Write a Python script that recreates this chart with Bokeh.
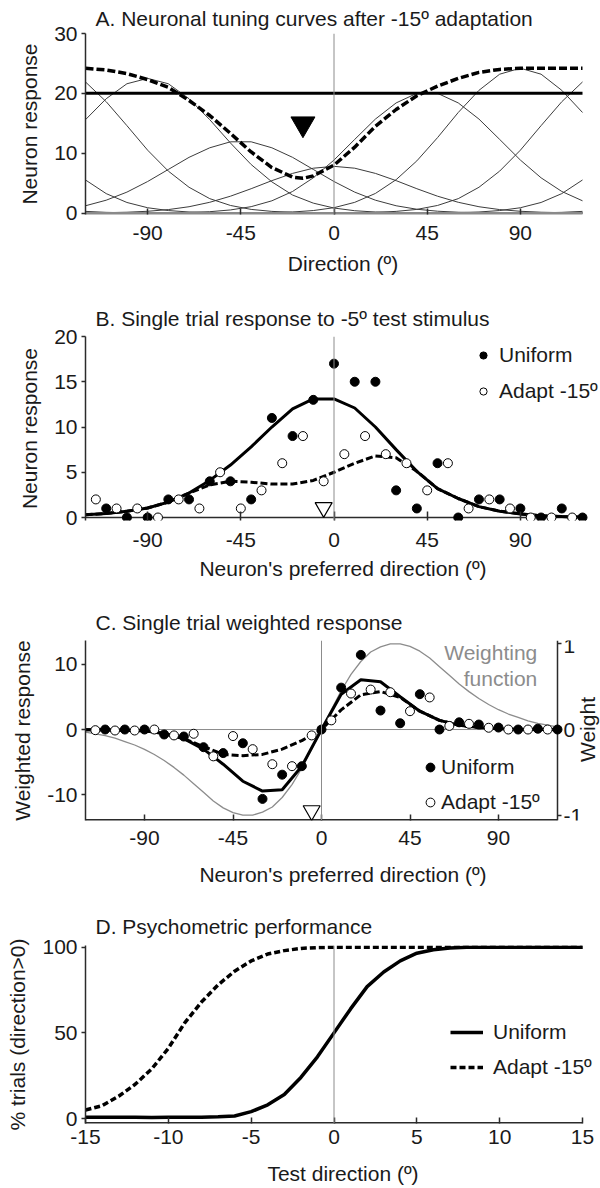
import math
from bokeh.plotting import figure
from bokeh.layouts import column
from bokeh.models import Range1d, FixedTicker, Span, Label, Legend, LegendItem
from bokeh.core.properties import value
from bokeh.embed import file_html
from bokeh.resources import INLINE

FONT = "Liberation Sans"
FS = "21px"
INK = "#1a1a1a"
AXC = "#2b2b2b"
GRAY = "#8c8c8c"

# ---------------- Panel A: tuning curves after -15 deg adaptation ----------------
a_dirs = [-120, -110, -100, -90, -80, -70, -60, -50, -40, -30, -20, -10, 0,
          10, 20, 30, 40, 50, 60, 70, 80, 90, 100, 110, 120]
a_pref_180 = [5.52, 3.24, 1.76, 0.88, 0.41, 0.17, 0.07, 0.03, 0.01, 0, 0, 0, 0,
              0, 0, 0, 0.01, 0.03, 0.07, 0.17, 0.41, 0.88, 1.76, 3.24, 5.52]
a_pref_m135 = [21.9, 18.6, 14.6, 10.5, 7.0, 4.3, 2.4, 1.26, 0.6, 0.27, 0.11, 0.04, 0.01,
               0, 0, 0, 0, 0, 0, 0, 0, 0.01, 0.04, 0.11, 0.27]
a_pref_m90 = [15.6, 19.1, 21.6, 22.5, 21.6, 19.1, 15.6, 11.7, 8.1, 5.2, 3.0, 1.65, 0.83,
              0.38, 0.16, 0.06, 0.02, 0.01, 0, 0, 0, 0, 0, 0, 0]
a_pref_m45 = [1.21, 2.14, 3.49, 5.26, 7.28, 9.3, 10.9, 11.9, 11.9, 10.9, 9.3, 7.28, 5.26,
              3.49, 2.14, 1.21, 0.63, 0.3, 0.13, 0.05, 0.02, 0.01, 0, 0, 0]
a_pref_0 = [0.02, 0.06, 0.13, 0.29, 0.57, 1.05, 1.79, 2.81, 4.06, 5.41, 6.62, 7.49, 7.8,
            7.49, 6.62, 5.41, 4.06, 2.81, 1.79, 1.05, 0.57, 0.29, 0.13, 0.06, 0.02]
a_pref_45 = [0, 0, 0, 0.01, 0.03, 0.09, 0.22, 0.51, 1.06, 2.04, 3.6, 5.88, 8.85,
             12.3, 15.7, 18.4, 20.0, 20.0, 18.4, 15.7, 12.3, 8.85, 5.88, 3.6, 2.04]
a_pref_90 = [0, 0, 0, 0, 0, 0, 0, 0.01, 0.02, 0.07, 0.17, 0.41, 0.89,
             1.78, 3.27, 5.57, 8.71, 12.6, 16.8, 20.5, 23.2, 24.2, 23.2, 20.5, 16.8]
a_pref_135 = [0.27, 0.11, 0.04, 0.01, 0, 0, 0, 0, 0, 0, 0, 0, 0,
              0.04, 0.11, 0.27, 0.6, 1.26, 2.4, 4.3, 7.0, 10.5, 14.6, 18.6, 21.9]
a_pop_dirs = [-120, -110, -100, -90, -80, -70, -60, -50, -40, -30, -20, -15, -10, 0,
              10, 20, 30, 40, 50, 60, 70, 80, 90, 100, 110, 120]
a_pop_adapt = [24.2, 23.9, 23.3, 22.3, 21.0, 18.8, 16.3, 13.3, 10.2, 7.6, 6.0, 5.8, 6.2, 8.0,
               11.0, 14.5, 17.3, 19.6, 21.2, 22.5, 23.5, 24.0, 24.2, 24.2, 24.2, 24.2]
a_uniform_level = 20
adapt_dir = -15
test_dir = -5

# ---------------- Panel B: single-trial responses ----------------
b_uniform_dirs = [-110, -100, -90, -80, -70, -60, -50, -40, -30, -20, -10, 0,
                  10, 20, 30, 40, 50, 60, 70, 80, 90, 100, 110, 120]
b_uniform_resp = [1, 0, 0, 2, 2, 4, 4, 2, 11, 9, 13, 17,
                  15, 15, 3, 1, 6, 0, 2, 2, 1, 0, 1, 0]
b_adapt_dirs = [-115, -105, -95, -85, -75, -65, -55, -45, -35, -25, -15, -5,
                5, 15, 25, 35, 45, 55, 65, 75, 85, 95, 105, 115]
b_adapt_resp = [2, 1, 1, 0, 2, 1, 5, 1, 3, 6, 9, 4,
                7, 9, 7, 6, 3, 6, 1, 2, 1, 0, 0, 0]
b_curve_dirs = a_dirs
b_uniform_mean = [0.3, 0.45, 0.7, 1.05, 1.7, 2.7, 4.1, 5.8, 7.8, 10.0, 12.0, 13.1, 13.1,
                  12.1, 10.0, 7.5, 5.1, 3.2, 2.1, 1.2, 0.7, 0.4, 0.2, 0.1, 0.05]
b_adapt_mean = [0.3, 0.45, 0.7, 1.05, 1.7, 2.7, 3.6, 4.0, 3.9, 3.7, 3.7, 4.1, 5.0,
                6.0, 6.8, 6.6, 5.1, 3.2, 2.1, 1.2, 0.7, 0.4, 0.2, 0.1, 0.05]

# ---------------- Panel C: weighted responses ----------------
c_uniform_wresp = [0, 0, 0, -0.76, -1.07, -2.7, -3.6, -2.1, -10.6, -6.9, -5.6, 0,
                   6.4, 11.4, 2.9, 0.96, 5.4, 0, 1.1, 0.76, 0.3, 0, 0.12, 0]
c_adapt_wresp = [-0.1, -0.15, -0.15, 0, -0.9, -0.65, -4.1, -1.0, -3.0, -5.3, -5.6, -0.9,
                 1.4, 5.5, 6.1, 5.7, 2.8, 4.9, 0.55, 0.87, 0.27, 0, 0, 0]
c_uniform_mean = [-0.05, -0.05, -0.1, -0.2, -0.6, -1.4, -3.0, -5.3, -7.9, -9.4, -9.2, -5.6, 0,
                  5.4, 7.6, 7.3, 5.0, 2.8, 1.4, 0.65, 0.3, 0.12, 0.05, 0.02, 0]
c_adapt_mean = [-0.05, -0.05, -0.1, -0.2, -0.6, -1.4, -2.6, -3.8, -4.0, -3.8, -3.0, -1.7, 0,
                3.0, 5.3, 5.8, 4.9, 2.8, 1.4, 0.65, 0.3, 0.12, 0.05, 0.02, 0]
w_dirs = [-120, -115, -110, -105, -100, -95, -90, -85, -80, -75, -70, -65, -60, -55, -50,
          -45, -40, -35, -30, -25, -20, -15, -10, -5, 0, 5, 10, 15, 20, 25, 30, 35, 40,
          45, 50, 55, 60, 65, 70, 75, 80, 85, 90, 95, 100, 105, 110, 115, 120]
w_weight = [-0.03, -0.05, -0.07, -0.10, -0.14, -0.18, -0.23, -0.29, -0.36, -0.44, -0.53,
            -0.63, -0.73, -0.83, -0.91, -0.965, -0.995, -0.995, -0.96, -0.90, -0.79, -0.64,
            -0.45, -0.23, 0, 0.23, 0.45, 0.64, 0.79, 0.90, 0.96, 0.995, 0.995, 0.965, 0.91,
            0.83, 0.73, 0.63, 0.53, 0.44, 0.36, 0.29, 0.23, 0.18, 0.14, 0.10, 0.07, 0.05, 0.03]
w_ticks = [-1, 0, 1]

# ---------------- Panel D: psychometric curves ----------------
d_test_dirs = [-15, -14, -13, -12, -11, -10, -9, -8, -7, -6, -5, -4, -3, -2, -1, 0,
               1, 2, 3, 4, 5, 6, 7, 8, 9, 10, 11, 12, 13, 14, 15]
d_uniform_pct = [0.8, 0.8, 0.7, 0.8, 0.6, 0.8, 0.7, 0.8, 1.0, 1.5, 4, 8, 14, 24, 36, 50,
                 64, 77, 85.5, 92, 96.5, 98.5, 99.5, 100, 100, 100, 100, 100, 100, 100, 100]
d_adapt_pct = [5, 7.5, 13, 20, 29, 41, 56, 68, 78, 86, 92, 96, 98, 99.3, 99.8, 100,
               100, 100, 100, 100, 100, 100, 100, 100, 100, 100, 100, 100, 100, 100, 100]

LEFT = 85
FRAME_W = 515          # frame runs to the right edge of the page
AXIS_W = 497           # drawn axis length for panels A, B, D
AXIS_W_C = 472         # drawn axis length for panel C (right axis takes space)


def x_end(lo, hi, axis_px):
    return lo + (hi - lo) * FRAME_W / axis_px


def make_fig(title, height, top, bottom, xr, yr, title_standoff):
    p = figure(width=600, height=height, x_range=xr, y_range=yr, title=title,
               output_backend="svg", toolbar_location=None,
               min_border_left=LEFT, min_border_right=0,
               min_border_top=top, min_border_bottom=bottom)
    p.outline_line_color = None
    p.xgrid.visible = False
    p.ygrid.visible = False
    p.title.align = "left"
    p.title.offset = 10
    p.title.text_font = FONT
    p.title.text_font_size = FS
    p.title.text_font_style = "normal"
    p.title.text_color = INK
    p.title.standoff = title_standoff
    return p


def style_axis(ax, ticks, label, inward, tick_standoff=8, label_standoff=9):
    ax.ticker = FixedTicker(ticks=ticks, minor_ticks=[])
    ax.major_label_overrides = {t: ("%g" % t) for t in ticks}
    ax.axis_label = label
    ax.axis_label_text_font = FONT
    ax.axis_label_text_font_size = FS
    ax.axis_label_text_font_style = "normal"
    ax.axis_label_text_color = INK
    ax.major_label_text_font = FONT
    ax.major_label_text_font_size = FS
    ax.major_label_text_color = INK
    ax.axis_line_color = AXC
    ax.axis_line_width = 1.5
    ax.major_tick_line_color = AXC
    ax.major_tick_line_width = 1.5
    ax.minor_tick_line_color = None
    if inward:
        ax.axis_line_color = None      # baseline drawn only over the data span
        ax.major_tick_in = 6
        ax.major_tick_out = 0
        ax.major_label_standoff = tick_standoff
        ax.axis_label_standoff = label_standoff
    else:
        ax.major_tick_in = 0
        ax.major_tick_out = 4
        ax.major_label_standoff = 4
        ax.axis_label_standoff = 10


def baseline(p, x0, x1, color=AXC, width=3):
    y = p.y_range.start
    p.line([x0, x1], [y, y], line_color=color, line_width=width)


dir_ticks = [-90, -45, 0, 45, 90]

# ---------- A ----------
pA = make_fig("A. Neuronal tuning curves after -15º adaptation", 292, 33, 78,
              Range1d(-120, x_end(-120, 120, AXIS_W)), Range1d(-0.25, 30), 8)
style_axis(pA.xaxis[0], dir_ticks, "Direction (º)", True, 11, 9)
style_axis(pA.yaxis[0], [0, 10, 20, 30], "Neuron response", False)
pA.add_layout(Span(location=0, dimension="height", line_color=GRAY, line_width=1))
for curve in [a_pref_180, a_pref_m135, a_pref_m90, a_pref_m45, a_pref_0,
              a_pref_45, a_pref_90, a_pref_135]:
    pA.line(a_dirs, curve, line_color="#3c3c3c", line_width=1)
baseline(pA, a_dirs[0], a_dirs[-1], color="#8a8a8a", width=5)
pA.line([a_dirs[0], a_dirs[-1]], [a_uniform_level, a_uniform_level],
        line_color="black", line_width=3)
pA.line(a_pop_dirs, a_pop_adapt, line_color="black", line_width=3.5, line_dash="8 3")
pA.scatter([adapt_dir], [14.9], marker="inverted_triangle", size=24,
           fill_color="black", line_color="black")

# ---------- B ----------
pB = make_fig("B. Single trial response to -5º test stimulus", 304, 44, 76,
              Range1d(-120, x_end(-120, 120, AXIS_W)), Range1d(-0.33, 20), 14)
style_axis(pB.xaxis[0], dir_ticks, "Neuron's preferred direction (º)", True, 12, 7)
style_axis(pB.yaxis[0], [0, 5, 10, 15, 20], "Neuron response", False)
pB.xaxis[0].major_tick_in = 9
pB.add_layout(Span(location=0, dimension="height", line_color=GRAY, line_width=1))
pB.line([b_curve_dirs[0], b_curve_dirs[-1]], [0, 0], line_color=AXC, line_width=1.5)
pB.line(b_curve_dirs, b_uniform_mean, line_color="black", line_width=3)
pB.line(b_curve_dirs, b_adapt_mean, line_color="black", line_width=3, line_dash="7 3")
rb1 = pB.scatter(b_uniform_dirs, b_uniform_resp, size=9, fill_color="black", line_color="black")
rb2 = pB.scatter(b_adapt_dirs, b_adapt_resp, size=9, fill_color="white", line_color="black",
                 line_width=1)
pB.scatter([test_dir], [1.1], marker="inverted_triangle", size=17,
           fill_color="white", line_color="black", line_width=1.2)
legB = Legend(items=[LegendItem(label=value("Uniform"), renderers=[rb1]),
                     LegendItem(label=value("Adapt -15º"), renderers=[rb2])],
              location=(389, 117), padding=0, margin=0, spacing=12,
              glyph_width=18, glyph_height=24, label_height=24, label_standoff=7,
              border_line_alpha=0, background_fill_alpha=0,
              label_text_font=FONT, label_text_font_size=FS, label_text_color=INK)
pB.add_layout(legB)

# ---------- C ----------
pC = make_fig("C. Single trial weighted response", 303, 44, 79,
              Range1d(-120, x_end(-120, 120, AXIS_W_C)), Range1d(-13.9, 13.6), 13)
pC.extra_y_ranges = {"w": Range1d(-1.057, 1.034)}
style_axis(pC.xaxis[0], dir_ticks, "Neuron's preferred direction (º)", True, 10, 15)
style_axis(pC.yaxis[0], [-10, 0, 10], "Weighted response", False)
pC.add_layout(Span(location=0, dimension="height", line_color=GRAY, line_width=1))
pC.line([a_dirs[0], a_dirs[-1]], [0, 0], line_color=GRAY, line_width=1)
baseline(pC, a_dirs[0], a_dirs[-1])
# right-hand "Weight" axis drawn at the end of the direction span
px_per_deg_c = AXIS_W_C / 240.0
pC.line([a_dirs[-1], a_dirs[-1]], [pC.y_range.start, pC.y_range.end], line_color=AXC,
        line_width=1.5)
pC.segment(x0=[a_dirs[-1]] * len(w_ticks), y0=w_ticks,
           x1=[a_dirs[-1] + 4 / px_per_deg_c] * len(w_ticks), y1=w_ticks,
           y_range_name="w", line_color=AXC, line_width=1.5)
for t in w_ticks:
    pC.add_layout(Label(x=a_dirs[-1], y=t, y_range_name="w", x_offset=6,
                        y_offset=(-3 if t == w_ticks[-1] else 0), text="%g" % t,
                        text_align="left", text_baseline="middle",
                        text_font=FONT, text_font_size=FS, text_color=INK))
pC.add_layout(Label(x=a_dirs[-1], y=0, y_range_name="w", x_offset=30, text="Weight",
                    angle=math.pi / 2, text_align="center", text_baseline="middle",
                    text_font=FONT, text_font_size=FS, text_color=INK))
pC.line(w_dirs, w_weight, y_range_name="w", line_color=GRAY, line_width=1.3)
pC.line(b_curve_dirs, c_uniform_mean, line_color="black", line_width=3)
pC.line(b_curve_dirs, c_adapt_mean, line_color="black", line_width=3, line_dash="7 3")
rc1 = pC.scatter(b_uniform_dirs, c_uniform_wresp, size=9, fill_color="black", line_color="black")
rc2 = pC.scatter(b_adapt_dirs, c_adapt_wresp, size=9, fill_color="white", line_color="black",
                 line_width=1)
pC.scatter([test_dir], [-12.4], marker="inverted_triangle", size=17,
           fill_color="white", line_color="black", line_width=1.2)
for txt, yv in [("Weighting", 11.75), ("function", 7.8)]:
    pC.add_layout(Label(x=109.7, y=yv, text=txt, text_align="right", text_baseline="middle",
                        text_font=FONT, text_font_size=FS, text_color=GRAY))
legC = Legend(items=[LegendItem(label=value("Uniform"), renderers=[rc1]),
                     LegendItem(label=value("Adapt -15º"), renderers=[rc2])],
              location=(334, 6), padding=0, margin=0, spacing=11,
              glyph_width=22, glyph_height=24, label_height=24, label_standoff=-3,
              border_line_alpha=0, background_fill_alpha=0,
              label_text_font=FONT, label_text_font_size=FS, label_text_color=INK)
pC.add_layout(legC)

# ---------- D ----------
pD = make_fig("D. Psychometric performance", 289, 46, 65,
              Range1d(-15, x_end(-15, 15, AXIS_W)), Range1d(-2.9, 101), 16)
style_axis(pD.xaxis[0], [-15, -10, -5, 0, 5, 10, 15], "Test direction (º)", True, 6, 15)
style_axis(pD.yaxis[0], [0, 50, 100], "% trials (direction>0)", False)
pD.add_layout(Span(location=0, dimension="height", line_color=GRAY, line_width=1))
baseline(pD, d_test_dirs[0], d_test_dirs[-1])
rd2 = pD.line(d_test_dirs, d_adapt_pct, line_color="black", line_width=3.5, line_dash="6 3")
rd1 = pD.line(d_test_dirs, d_uniform_pct, line_color="black", line_width=3.5)
legD = Legend(items=[LegendItem(label=value("Uniform"), renderers=[rd1]),
                     LegendItem(label=value("Adapt -15º"), renderers=[rd2])],
              location=(365, 44), padding=0, margin=0, spacing=11,
              glyph_width=33, glyph_height=24, label_height=24, label_standoff=10,
              border_line_alpha=0, background_fill_alpha=0,
              label_text_font=FONT, label_text_font_size=FS, label_text_color=INK)
pD.add_layout(legD)

layout = column(pA, pB, pC, pD)
open("out.html", "w").write(file_html(layout, INLINE))
